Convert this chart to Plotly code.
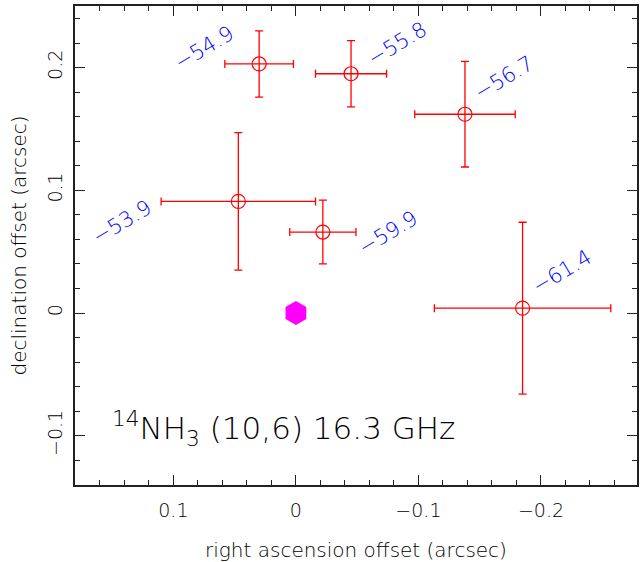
import plotly.graph_objects as go

# ---- data ----
labels = ["\u221254.9", "\u221255.8", "\u221256.7", "\u221253.9", "\u221259.9", "\u221261.4"]
ra = [0.030, -0.045, -0.138, 0.047, -0.022, -0.185]
dec = [0.203, 0.195, 0.162, 0.091, 0.066, 0.004]
ra_err = [0.028, 0.029, 0.041, 0.063, 0.027, 0.072]
dec_err = [0.027, 0.027, 0.043, 0.056, 0.026, 0.070]
ref_ra = [0.0]
ref_dec = [0.0]
title_text = "<sup>14</sup>NH<sub>3</sub> (10,6) 16.3 GHz"

# label pixel offsets (styling)
lab_dx = [-55, 46, 39, -116, 65, 39]
lab_dy = [16, 30, 36, -21, -1, 36]

FONT = "DejaVu Sans ExtraLight, DejaVu Sans"
TXT = "#000000"

fig = go.Figure()
fig.add_trace(go.Scatter(
    x=ra, y=dec, mode="markers",
    marker=dict(symbol="circle-open", size=14, color="red", line=dict(width=1.2, color="red")),
    error_x=dict(type="data", array=ra_err, color="red", thickness=1.3, width=4),
    error_y=dict(type="data", array=dec_err, color="red", thickness=1.3, width=4),
    showlegend=False, hoverinfo="skip"))
fig.add_trace(go.Scatter(
    x=ref_ra, y=ref_dec, mode="markers",
    marker=dict(symbol="hexagon", size=24, color="#ff00ff", line=dict(width=0)),
    showlegend=False, hoverinfo="skip"))

for lab, x, y, dx, dy in zip(labels, ra, dec, lab_dx, lab_dy):
    fig.add_annotation(x=x, y=y, text=lab, showarrow=False, textangle=-31,
                       xanchor="center", yanchor="middle", xshift=dx, yshift=dy,
                       font=dict(family=FONT, size=21, color="#0000ff", weight=200))

fig.add_annotation(xref="paper", yref="paper", x=0.062, y=0.118, text=title_text,
                   showarrow=False, xanchor="left", yanchor="middle",
                   font=dict(family=FONT, size=31, color=TXT, weight=200))

axis_common = dict(
    showline=True, linecolor="#222222", linewidth=1.5, mirror="ticks",
    ticks="inside", ticklen=10, tickwidth=1.2, tickcolor="#222222",
    showgrid=False, zeroline=False, dtick=0.1,
    tickfont=dict(family=FONT, size=19, color=TXT, weight=200),
    minor=dict(ticks="inside", ticklen=5, dtick=0.02, tickwidth=1.2, tickcolor="#222222", showgrid=False),
)

fig.update_xaxes(range=[0.1803, -0.2784], tick0=0, ticklabelstandoff=7,
                 title=dict(text="right ascension offset (arcsec)", standoff=24,
                            font=dict(family=FONT, size=20, color=TXT, weight=200)),
                 **axis_common)
fig.update_yaxes(range=[-0.1401, 0.2502], tick0=0, tickangle=-90, ticklabelstandoff=4,
                 title=dict(text="declination offset (arcsec)", standoff=12,
                            font=dict(family=FONT, size=20, color=TXT, weight=200)),
                 **axis_common)

fig.update_layout(width=642, height=562,
                  margin=dict(l=75, r=3, t=6, b=77),
                  paper_bgcolor="white", plot_bgcolor="white")

fig.write_html("out.html")
